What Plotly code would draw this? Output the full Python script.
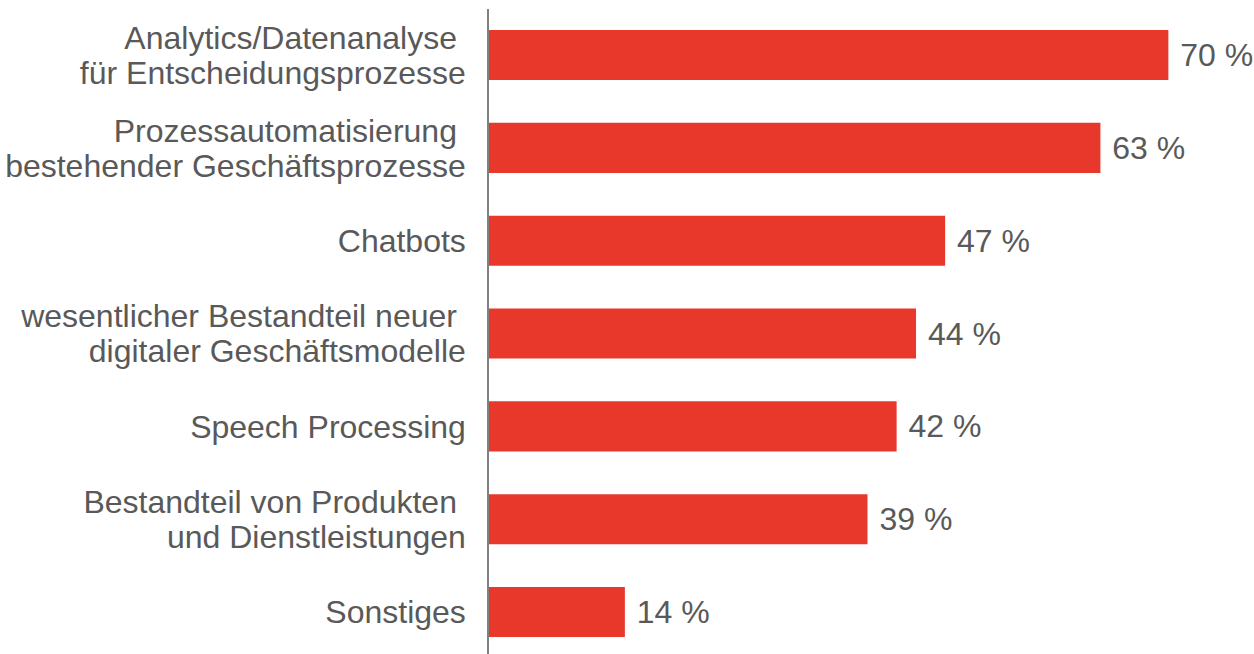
import plotly.graph_objects as go

categories = [
    "Analytics/Datenanalyse\u00a0<br>für Entscheidungsprozesse",
    "Prozessautomatisierung\u00a0<br>bestehender Geschäftsprozesse",
    "Chatbots",
    "wesentlicher Bestandteil neuer\u00a0<br>digitaler Geschäftsmodelle",
    "Speech Processing",
    "Bestandteil von Produkten\u00a0<br>und Dienstleistungen",
    "Sonstiges",
]
values = [70, 63, 47, 44, 42, 39, 14]
labels = [f"\u00a0{v} %" for v in values]

FONT = "Liberation Sans, Arial, sans-serif"
GREY = "#595959"

# split multi-line category labels into one tick per line (tighter line spacing)
tickvals, ticktext = [], []
LINE_OFFSET = 0.188
for i, cat in enumerate(categories):
    parts = cat.split("<br>")
    n = len(parts)
    for j, p in enumerate(parts):
        tickvals.append(i + (j - (n - 1) / 2) * 2 * LINE_OFFSET)
        ticktext.append(p)

fig = go.Figure(go.Bar(
    x=values,
    y=list(range(len(categories))),
    orientation="h",
    marker=dict(color="#E8372B", line=dict(width=0)),
    width=0.54,
    text=labels,
    textposition="outside",
    textfont=dict(family=FONT, size=32, color=GREY),
    cliponaxis=False,
    constraintext="none",
))

fig.update_layout(
    width=1254, height=654,
    margin=dict(l=489, r=8, t=9, b=0),
    plot_bgcolor="white", paper_bgcolor="white",
    showlegend=False,
    font=dict(family=FONT, size=32, color=GREY),
    xaxis=dict(range=[0, 78], visible=False, showgrid=False, zeroline=False),
    yaxis=dict(
        range=[6.452, -0.496],
        tickmode="array",
        tickvals=tickvals,
        ticktext=ticktext,
        showgrid=False, zeroline=False,
        showline=True, linecolor="#808080", linewidth=1.5,
        ticks="", ticklabelstandoff=15,
        automargin=False,
        tickfont=dict(family=FONT, size=32, color=GREY),
    ),
)

fig.write_html("out.html", config={"displayModeBar": False},
               post_script="document.body.style.margin='0';")
